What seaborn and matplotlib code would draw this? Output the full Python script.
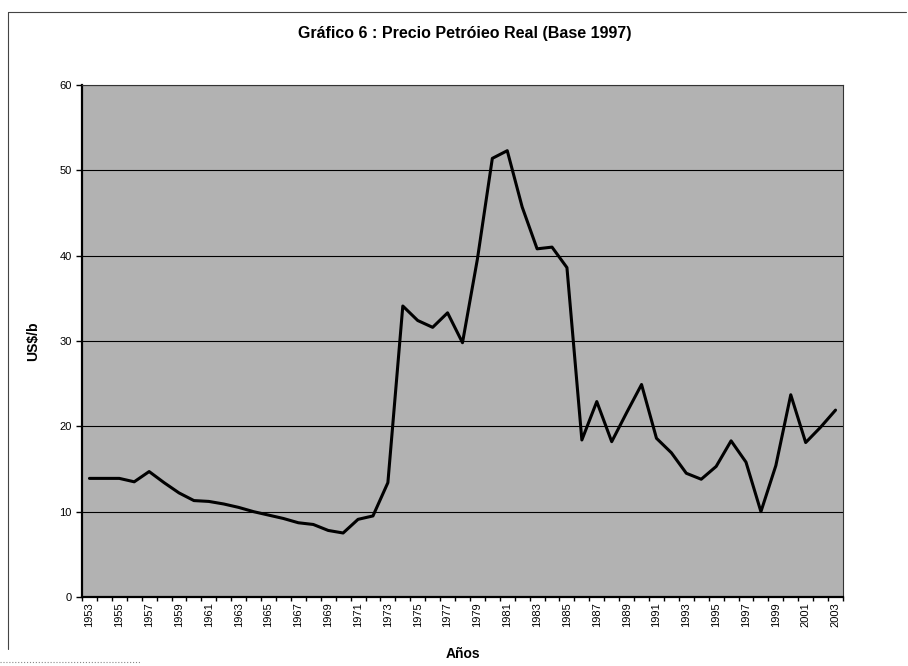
import numpy as np
import pandas as pd
import seaborn as sns
import matplotlib.pyplot as plt
from matplotlib.lines import Line2D

# data
years = list(range(1953, 2004))
price = [13.9, 13.9, 13.9, 13.5, 14.7, 13.4, 12.2, 11.3, 11.2, 10.9,
         10.5, 10.0, 9.6, 9.2, 8.7, 8.5, 7.8, 7.5, 9.1, 9.5,
         13.4, 34.1, 32.4, 31.6, 33.3, 29.8, 39.6, 51.4, 52.3, 45.7,
         40.8, 41.0, 38.6, 18.4, 22.9, 18.2, 21.6, 24.9, 18.6, 16.9,
         14.5, 13.8, 15.3, 18.3, 15.8, 10.0, 15.4, 23.7, 18.1, 19.9,
         21.9]
tick_years = years[::2]

df = pd.DataFrame({"year": years, "price": price})

sns.set_theme(style="white")
plt.rcParams['font.family'] = ['Liberation Sans', 'DejaVu Sans']
plt.rcParams['text.color'] = 'black'
plt.rcParams['axes.labelcolor'] = 'black'
plt.rcParams['xtick.color'] = 'black'
plt.rcParams['ytick.color'] = 'black'

fig = plt.figure(figsize=(9.08, 6.66), dpi=100)
ax = fig.add_axes([0.0903, 0.1036, 0.8381, 0.7688])
ax.set_facecolor("#b2b2b2")

sns.lineplot(data=df, x="year", y="price", color="black", linewidth=2.2, ax=ax, zorder=3)

ax.set_xlim(1952.5, 2003.5)
ax.set_ylim(0, 60)
ax.set_yticks(range(0, 61, 10))
ax.set_xticks(tick_years)
ax.set_xticklabels([str(y) for y in tick_years], rotation=90, fontsize=8)
ax.set_xticks(np.arange(1952.5, 2004, 1), minor=True)
ax.tick_params(axis="y", labelsize=8, length=4, width=1, color="black", direction="out", left=True)
ax.tick_params(axis="x", which="major", length=0, pad=4)
ax.tick_params(axis="x", which="minor", length=3, width=1, color="black", bottom=True)
ax.yaxis.grid(True, color="black", linewidth=0.8)
ax.set_axisbelow(True)

for s in ["top", "right"]:
    ax.spines[s].set_color("#333333")
    ax.spines[s].set_linewidth(0.8)
for s in ["left", "bottom"]:
    ax.spines[s].set_color("black")
    ax.spines[s].set_linewidth(1.6)

ax.set_xlabel("Años", fontsize=10, fontweight="bold", labelpad=14)
ax.set_ylabel("US$/b", fontsize=10, fontweight="bold", labelpad=14)

fig.text(0.512, 0.95, "Gráfico 6 : Precio Petróieo Real (Base 1997)",
         ha="center", va="center", fontsize=11.5, fontweight="bold", color="black")

# outer chart frame: top and left edges, dotted piece at the bottom
fig.lines.append(Line2D([0.009, 0.998], [0.982, 0.982], transform=fig.transFigure,
                        color="#444444", linewidth=0.8))
fig.lines.append(Line2D([0.009, 0.009], [0.982, 0.025], transform=fig.transFigure,
                        color="#444444", linewidth=0.8))
fig.lines.append(Line2D([0.0, 0.155], [0.006, 0.006], transform=fig.transFigure,
                        color="#888888", linewidth=0.8, linestyle=":"))

fig.savefig("out.png", dpi=100)
